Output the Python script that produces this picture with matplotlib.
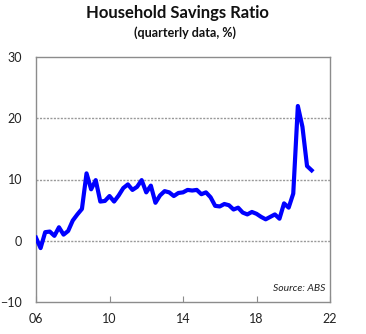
import matplotlib
matplotlib.use("Agg")
import matplotlib.pyplot as plt
import numpy as np

# quarterly data starting 2006 Q1
start_year = 2006.0
savings_ratio = [0.5, -1.2, 1.4, 1.5, 0.8, 2.2, 1.0, 1.6, 3.3, 4.3,
                 5.2, 11.0, 8.4, 9.9, 6.4, 6.5, 7.3, 6.4, 7.4, 8.6,
                 9.2, 8.3, 8.8, 9.9, 7.9, 9.0, 6.2, 7.4, 8.1, 7.9,
                 7.3, 7.8, 7.9, 8.3, 8.2, 8.3, 7.6, 7.9, 7.1, 5.7,
                 5.6, 6.0, 5.8, 5.1, 5.4, 4.6, 4.3, 4.7, 4.4, 3.9,
                 3.5, 3.9, 4.3, 3.6, 6.1, 5.4, 7.7, 22.0, 18.6, 12.2,
                 11.5]
x_ticks = [2006, 2010, 2014, 2018, 2022]
x_ticklabels = ["06", "10", "14", "18", "22"]
y_ticks = [-10, 0, 10, 20, 30]

plt.rcParams['font.family'] = ['Lato', 'DejaVu Sans']

fig = plt.figure(figsize=(3.66, 3.34), dpi=100)
ax = fig.add_axes([36/366, 1-302/334, (330-36)/366, (302-57)/334])

x = start_year + np.arange(len(savings_ratio)) / 4.0
ax.plot(x, savings_ratio, color="#0000FF", lw=3, solid_joinstyle="round", zorder=3)

ax.set_xlim(2006, 2022)
ax.set_ylim(-10, 30)
ax.set_xticks(x_ticks)
ax.set_xticklabels(x_ticklabels)
ax.set_yticks(y_ticks)

for y in [0, 10, 20]:
    ax.axhline(y, color="#999999", lw=1.0, ls=(0, (1.5, 1.0)), zorder=1)

for s in ax.spines.values():
    s.set_color("#8c8c8c")
    s.set_linewidth(1.0)

ax.tick_params(axis="x", direction="in", length=4, color="#8c8c8c", pad=8,
               labelsize=9, labelcolor="#222222")
ax.tick_params(axis="y", length=0, pad=10, labelsize=9, labelcolor="#222222")

ax.text(0.985, 0.035, "Source: ABS", transform=ax.transAxes, ha="right", va="bottom",
        fontsize=7.5, style="italic", color="#222222")

fig.text(0.485, 1-13/334, "Household Savings Ratio", ha="center", va="center",
         fontsize=12, fontweight="bold", color="#111111")
fig.text(0.505, 1-33/334, "(quarterly data, %)", ha="center", va="center",
         fontsize=9, fontweight="bold", color="#111111")

fig.savefig("out.png", dpi=100)
